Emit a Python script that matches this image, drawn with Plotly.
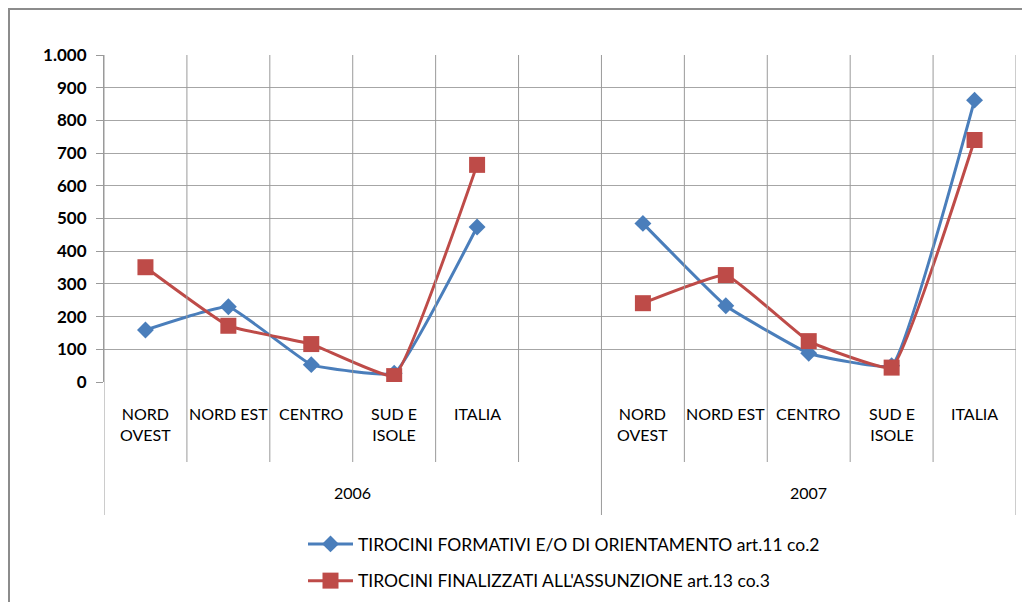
import plotly.graph_objects as go

# categories (slot 5 is the empty gap between the two years)
aree = ["NORD<br>OVEST", "NORD EST", "CENTRO", "SUD E<br>ISOLE", "ITALIA"]
anni = ["2006", "2007"]
categorie = aree + [""] + aree

# values (None = empty slot)
formativi = [159, 230, 53, 27, 474, None, 485, 233, 88, 50, 862]
finalizzati = [351, 172, 116, 18, 664, None, 241, 327, 125, 44, 740]

nome_formativi = "TIROCINI FORMATIVI E/O DI ORIENTAMENTO art.11 co.2"
nome_finalizzati = "TIROCINI FINALIZZATI ALL'ASSUNZIONE art.13 co.3"

BLU = "#4a7ebb"
ROSSO = "#be4b48"
GRIGIO = "#9a9a9a"
FONT = "Lato"
OFF = 8  # page body margin shifts the figure

x = list(range(len(categorie)))

fig = go.Figure()
fig.add_trace(go.Scatter(
    x=x, y=formativi, name=nome_formativi, mode="lines+markers",
    line=dict(color=BLU, width=3, shape="spline", smoothing=0.3),
    marker=dict(symbol="diamond", size=13, color=BLU),
    connectgaps=False, legendgroup="a"))
fig.add_trace(go.Scatter(
    x=x, y=finalizzati, name=nome_finalizzati, mode="lines+markers",
    line=dict(color=ROSSO, width=3, shape="spline", smoothing=0.3),
    marker=dict(symbol="square", size=16, color=ROSSO),
    connectgaps=False, legendgroup="b"))

L, R, T, B = 104 - OFF, 1016 - OFF, 55 - OFF, 382 - OFF

# screen pixel -> paper helpers for the decoration below the plot area
def py(p):
    return (B - (p - OFF)) / float(B - T)

def px(p):
    return ((p - OFF) - L) / float(R - L)

shapes = []
n = len(categorie)
for k in range(n + 1):
    xv = k - 0.5
    bottom = py(515) if k in (0, 6, n) else py(462)
    shapes.append(dict(type="line", xref="x", yref="paper", x0=xv, x1=xv,
                       y0=bottom, y1=1, line=dict(color=GRIGIO, width=1)))
# outer chart frame
shapes.append(dict(type="rect", xref="paper", yref="paper",
                   x0=px(OFF + 1), x1=px(1060), y0=py(660), y1=py(9),
                   line=dict(color="#8c8c8c", width=2)))

annotations = []
for i, c in enumerate(categorie):
    if not c:
        continue
    annotations.append(dict(x=i, y=py(402), xref="x", yref="paper", text=c,
                            showarrow=False, yanchor="top", xanchor="center",
                            font=dict(family=FONT, size=16, color="#000")))
for j, a in enumerate(anni):
    annotations.append(dict(x=2.5 + 5.5 * j, y=py(492),
                            xref="x", yref="paper", text=a, showarrow=False,
                            yanchor="middle", xanchor="center",
                            font=dict(family=FONT, size=16, color="#000")))

fig.update_layout(
    width=1030, height=602,
    margin=dict(l=L, r=1030 - R, t=T, b=602 - B, autoexpand=False),
    paper_bgcolor="white", plot_bgcolor="white",
    separators=",.",
    font=dict(family=FONT, size=16, color="#000"),
    showlegend=True,
    legend=dict(x=px(303), y=py(526), xanchor="left", yanchor="top",
                orientation="v", tracegroupgap=11, itemwidth=45,
                font=dict(family=FONT, size=17.5, color="#000")),
    shapes=shapes, annotations=annotations,
)
fig.update_xaxes(range=[-0.5, n - 0.5], showgrid=False, showticklabels=False,
                 zeroline=False, ticks="", automargin=False)
fig.update_yaxes(range=[0, 1000], dtick=100, tickformat=",d",
                 showgrid=True, gridcolor="#a6a6a6", gridwidth=1,
                 zeroline=False, showline=True, linecolor=GRIGIO,
                 ticks="outside", ticklen=7, tickcolor=GRIGIO,
                 ticklabelstandoff=6, automargin=False,
                 tickfont=dict(family=FONT, size=17, color="#000", weight="bold"))

fig.write_html("out.html")
